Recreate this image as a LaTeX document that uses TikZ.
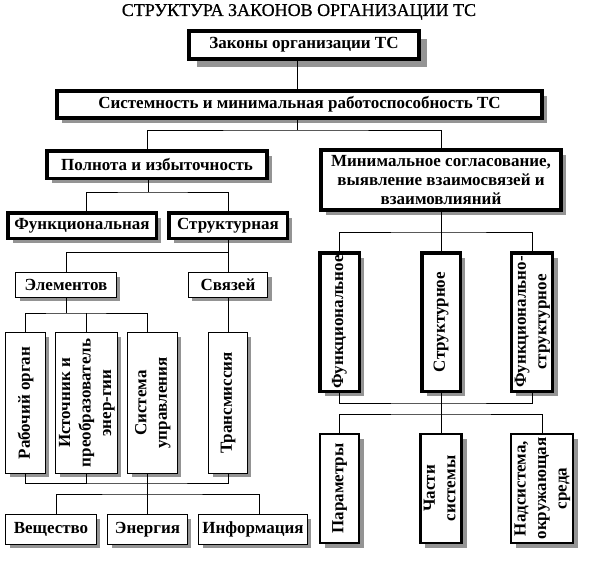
\documentclass[tikz,border=0pt]{standalone}
\usepackage{fontspec}
\usepackage{graphicx}
\setmainfont{Liberation Serif}
\newfontfamily\titlefont[FakeBold=0.6]{Liberation Serif}
\usetikzlibrary{shadows}
\begin{document}
\begin{tikzpicture}[x=1pt,y=-1pt,
  boxshadow/.style={general shadow={shadow xshift=#1, shadow yshift=-#1, fill=black!42}},
  box/.style={draw, fill=white, inner sep=0pt, align=center,
    font=\bfseries\fontsize{17}{19}\selectfont},
  heavy/.style={box, line width=3.5pt},
  medium/.style={box, line width=2.2pt},
  light/.style={box, line width=1.3pt},
  wire/.style={line width=1pt},
]
\useasboundingbox (0,0) rectangle (600,562);
\renewcommand\arraystretch{1.08}

\node[font=\titlefont\fontsize{18}{20}\selectfont, anchor=base, inner sep=0pt] (title) at (299,16) {СТРУКТУРА ЗАКОНОВ ОРГАНИЗАЦИИ ТС};

% top levels
\node[heavy, line width=4pt, boxshadow=8pt, minimum width=230pt, minimum height=28pt] (b1) at (304,45) {Законы организации ТС};
\node[heavy, line width=4pt, boxshadow=5pt, minimum width=485pt, minimum height=27pt] (b2) at (299.5,104.5) {Системность и минимальная работоспособность ТС};
\node[heavy, boxshadow=5pt, minimum width=220pt, minimum height=27.5pt] (b3) at (157,164.5) {Полнота и избыточность};
\node[heavy, line width=4pt, boxshadow=5pt, minimum width=240pt, minimum height=60pt] (b4) at (441,180) {Минимальное согласование,\\выявление взаимосвязей и\\взаимовлияний};

% left branch
\node[heavy, boxshadow=5pt, minimum width=148.5pt, minimum height=25.5pt] (b5) at (82,225.5) {Функциональная};
\node[heavy, boxshadow=5pt, minimum width=118.5pt, minimum height=25.5pt] (b6) at (228,225.5) {Структурная};
\node[light, boxshadow=4pt, minimum width=100.5pt, minimum height=24.5pt] (b7) at (66,285) {Элементов};
\node[light, boxshadow=4pt, minimum width=79.5pt, minimum height=24.5pt] (b8) at (228,285) {Связей};

\node[light, boxshadow=4pt, minimum width=39.5pt, minimum height=140.5pt] (v1) at (25.5,403) {\rotatebox{90}{Рабочий орган}};
\node[light, boxshadow=4pt, minimum width=59.5pt, minimum height=140.5pt] (v2) at (86.5,403) {\rotatebox{90}{\begin{tabular}{@{}c@{}}Источник и\\преобразователь\\энер-гии\end{tabular}}};
\node[light, boxshadow=4pt, minimum width=49.5pt, minimum height=140.5pt] (v3) at (152.5,403) {\rotatebox{90}{\begin{tabular}{@{}c@{}}Система\\управления\end{tabular}}};
\node[light, boxshadow=4pt, minimum width=38.5pt, minimum height=140.5pt] (v4) at (228,403) {\rotatebox{90}{Трансмиссия}};

\node[light, boxshadow=4pt, minimum width=90.5pt, minimum height=29.5pt] (w1) at (51,529.5) {Вещество};
\node[light, boxshadow=4pt, minimum width=79.5pt, minimum height=29.5pt] (w2) at (147.5,529.5) {Энергия};
\node[light, boxshadow=4pt, minimum width=108.5pt, minimum height=29.5pt] (w3) at (253,529.5) {Информация};

% right branch
\node[heavy, boxshadow=5pt, minimum width=39.5pt, minimum height=138.5pt] (r1) at (339.5,322) {\rotatebox{90}{Функциональное}};
\node[heavy, boxshadow=5pt, minimum width=38.5pt, minimum height=138.5pt] (r2) at (441,322) {\rotatebox{90}{Структурное}};
\node[heavy, boxshadow=5pt, minimum width=36.5pt, minimum height=138.5pt] (r3) at (532,322) {\rotatebox{90}{\begin{tabular}{@{}c@{}}Функционально-\\структурное\end{tabular}}};

\node[medium, boxshadow=5pt, minimum width=38.5pt, minimum height=108.5pt] (s1) at (339.5,488.5) {\rotatebox{90}{Параметры}};
\node[medium, boxshadow=5pt, minimum width=39.5pt, minimum height=108.5pt] (s2) at (441,488.5) {\rotatebox{90}{\begin{tabular}{@{}c@{}}Части\\системы\end{tabular}}};
\node[medium, boxshadow=5pt, minimum width=57.5pt, minimum height=108.5pt] (s3) at (542,488.5) {\rotatebox{90}{\begin{tabular}{@{}c@{}}Надсистема,\\окружающая\\среда\end{tabular}}};

% junctions
\coordinate (j1) at (297,130);
\coordinate (j2) at (148,192);
\coordinate (j3) at (228,252);
\coordinate (j4) at (66,313);
\coordinate (j5) at (147,483);
\coordinate (j6) at (147,494);
\coordinate (j7) at (441,232);
\coordinate (j8) at (441,403);
\coordinate (j9) at (441,414);

% connectors
\draw[wire] ([xshift=-7pt]b1.south) -- ([xshift=-7pt]b1.south |- b2.north);
\draw[wire] (b2.south -| j1) -- (j1);
\draw[wire] ([xshift=-10pt]b3.north) |- (j1) -| (b4.north);
\draw[wire] (b3.south -| j2) -- (j2);
\draw[wire] ([xshift=4pt]b5.north) |- (j2) -| (b6.north);
\draw[wire] (b6.south) -- (j3);
\draw[wire] (b7.north) |- (j3) -| (b8.north);
\draw[wire] (b7.south) -- (j4);
\draw[wire] (v1.north) |- (j4) -| ([xshift=-5.5pt]v3.north);
\draw[wire] (v2.north) -- (v2.north |- j4);
\draw[wire] (b8.south) -- (v4.north);
\draw[wire] (v1.south) |- (j5) -| (v4.south);
\draw[wire] (v2.south) -- (v2.south |- j5);
\draw[wire] ([xshift=-5.5pt]v3.south) -- (w2.north -| j5);
\draw[wire] ([xshift=5pt]w1.north) |- (j6) -| ([xshift=6pt]w3.north);
\draw[wire] (b4.south) -- (j7);
\draw[wire] (r1.north) |- (j7) -| (r3.north);
\draw[wire] (r2.north) -- (j7);
\draw[wire] (r1.south) |- (j8) -| (r3.south);
\draw[wire] (r2.south) -- (s2.north);
\draw[wire] (s1.north) |- (j9) -| (s3.north);
\end{tikzpicture}
\end{document}
